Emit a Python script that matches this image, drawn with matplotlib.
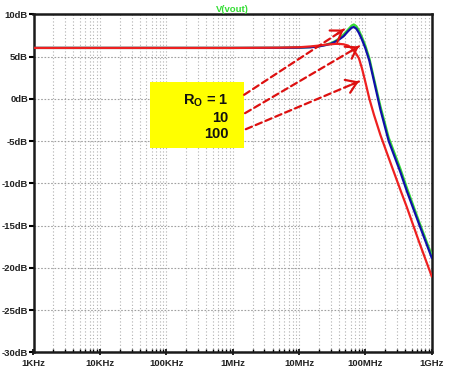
import numpy as np
import matplotlib
matplotlib.use("Agg")
import matplotlib.pyplot as plt
from matplotlib.patches import Rectangle

plt.rcParams['font.family'] = ['Liberation Sans', 'DejaVu Sans']
plt.rcParams['mathtext.fontset'] = 'custom'
plt.rcParams['mathtext.rm'] = 'Liberation Sans'
plt.rcParams['mathtext.bf'] = 'Liberation Sans:bold'

# ---------------- data ----------------
freq_hz = [1e3, 1e4, 1e5, 1e6, 5e6, 1e7, 1.5e7, 2e7, 2.5e7, 3e7, 3.5e7, 4e7,
           4.7e7, 5.5e7, 6.2e7, 6.7e7, 7.3e7, 8e7, 8.9e7, 1e8, 1.15e8, 1.35e8,
           1.69e8, 2.25e8, 3.38e8, 4.21e8, 6.5e8, 1e9]
gain_ro1 = [6.02, 6.02, 6.02, 6.02, 6.03, 6.06, 6.12, 6.22, 6.38, 6.58, 6.82, 7.12,
            7.6, 8.2, 8.65, 8.8, 8.6, 8.1, 7.3, 6.3, 4.8, 2.4,
            -0.9, -4.6, -8.3, -10.5, -14.6, -18.5]
gain_ro10 = [6.02, 6.02, 6.02, 6.02, 6.03, 6.05, 6.1, 6.2, 6.35, 6.5, 6.75, 7.0,
             7.4, 8.0, 8.4, 8.5, 8.3, 7.8, 7.0, 6.0, 4.5, 2.1,
             -1.3, -5.0, -8.7, -10.9, -14.9, -18.8]
gain_ro100 = [6.02, 6.02, 6.02, 6.02, 6.05, 6.1, 6.2, 6.3, 6.4, 6.45, 6.5, 6.5,
              6.45, 6.3, 6.0, 5.7, 5.3, 4.8, 3.6, 2.0, 0.0, -1.9,
              -4.3, -7.0, -10.8, -12.8, -17.0, -21.0]

series_colors = ['#33dd33', '#1010a8', '#ee2020']

x_ticks = [1e3, 1e4, 1e5, 1e6, 1e7, 1e8, 1e9]
x_labels = ['1KHz', '10KHz', '100KHz', '1MHz', '10MHz', '100MHz', '1GHz']
y_ticks = [-30, -25, -20, -15, -10, -5, 0, 5, 10]
y_labels = ['-30dB', '-25dB', '-20dB', '-15dB', '-10dB', '-5dB', '0dB', '5dB', '10dB']

legend_lines = ['R$_\\mathregular{O}$ = 1', '10', '100']
legend_text_pos = [(8.65e5, -0.63), (8.65e5, -2.69), (8.65e5, -4.65)]
legend_box = (5.7e4, 1.49e6, -5.8, 2.0)  # f0, f1, dB0, dB1
arrow_starts = [(1.49e6, 0.47), (1.54e6, -1.7), (1.58e6, -3.6)]
arrow_ends = [(4.75e7, 8.2), (8.0e7, 6.2), (8.0e7, 2.05)]

# ---------------- figure ----------------
fig = plt.figure(figsize=(4.5, 3.75), dpi=100)
ax = fig.add_axes([33.5 / 450, 1 - 352.3 / 375, (431.7 - 33.5) / 450, (352.3 - 14.3) / 375])
ax.set_xscale('log')
ax.set_xlim(1e3, 1e9)
ax.set_ylim(-30, 10)

for y, c in zip([gain_ro1, gain_ro10, gain_ro100], series_colors):
    ax.plot(freq_hz, y, color=c, lw=1.6, solid_joinstyle='round', zorder=3)

# grid
minor = []
for d in range(3, 9):
    for m in range(2, 10):
        minor.append(m * 10 ** d)
ax.set_xticks(x_ticks)
ax.set_xticklabels(x_labels)
ax.set_xticks(minor, minor=True)
ax.set_xticklabels([], minor=True)
ax.set_yticks(y_ticks)
ax.set_yticklabels(y_labels)
ax.grid(True, which='both', axis='x', color='#b0b0b0', ls=(0, (1, 2)), lw=0.8)
ax.grid(True, which='major', axis='y', color='#a0a0a0', ls=(0, (1.5, 1.5)), lw=0.8)
ax.set_axisbelow(True)

for t in ax.get_xticklabels() + ax.get_yticklabels():
    t.set_fontweight('bold')
    t.set_fontsize(6.8)
    t.set_color('#222222')
ax.tick_params(axis='y', which='major', direction='out', length=3.5, width=1.5, pad=0.5)
ax.tick_params(axis='x', which='major', direction='inout', length=5, width=1.2, pad=2)
ax.tick_params(axis='x', which='minor', direction='in', length=2.5, width=1)

for s in ax.spines.values():
    s.set_linewidth(1.8)
    s.set_color('#1a1a1a')

ax.set_title('V(vout)', color='#33dd33', fontsize=6.8, fontweight='bold', pad=1.5)

# legend box
f0, f1, d0, d1 = legend_box
ax.add_patch(Rectangle((f0, d0), f1 - f0, d1 - d0, facecolor='#ffff00',
                       edgecolor='none', zorder=4))
for txt, (fx, fy) in zip(legend_lines, legend_text_pos):
    ax.text(fx, fy, txt, ha='right', va='baseline', fontsize=10.5,
            fontweight='bold', color='#111111', zorder=5)

# arrows
red = '#dd1010'
fig.canvas.draw()
for (sx, sy), (ex, ey) in zip(arrow_starts, arrow_ends):
    ax.annotate('', xy=(ex, ey), xytext=(sx, sy),
                arrowprops=dict(arrowstyle='-', color=red, lw=1.6,
                                linestyle=(0, (3, 1.8)), shrinkA=0, shrinkB=0),
                zorder=6)
    p0 = ax.transData.transform((sx, sy))
    p1 = ax.transData.transform((ex, ey))
    v = (p1 - p0) / np.hypot(*(p1 - p0))
    back = -v * 8
    ax.annotate('', xy=(ex, ey), xytext=(back[0], back[1]), textcoords='offset pixels',
                arrowprops=dict(arrowstyle='->,head_length=0.75,head_width=0.5',
                                color=red, lw=1.6, shrinkA=0, shrinkB=0),
                zorder=6)

fig.savefig('out.png', dpi=100)
